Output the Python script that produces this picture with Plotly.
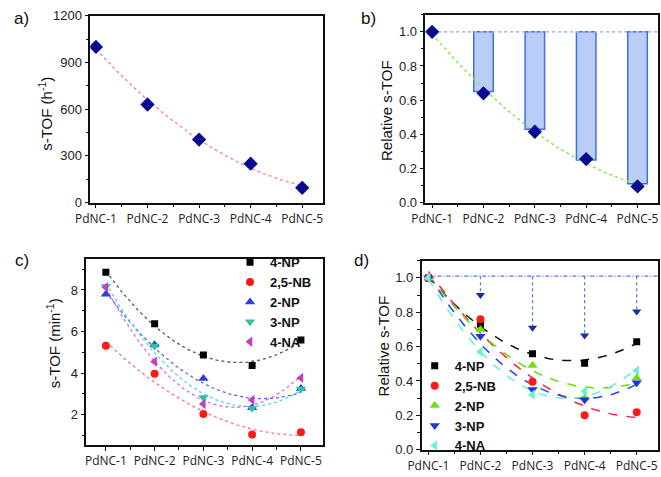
import numpy as np
import plotly.graph_objects as go

W, H = 661, 477

# ---------------- data ----------------
categories = ["PdNC-1", "PdNC-2", "PdNC-3", "PdNC-4", "PdNC-5"]
xpos = list(range(len(categories)))

# panel a
stof_h = [1000, 630, 405, 250, 95]
# panel b
rel_stof = [1.0, 0.64, 0.415, 0.255, 0.095]
bar_cats = [1, 2, 3, 4]
bar_low = [0.65, 0.43, 0.25, 0.11]
bar_top = 1.0

# panel c (min^-1)
substrates = ["4-NP", "2,5-NB", "2-NP", "3-NP", "4-NA"]
tof_4np = [8.85, 6.37, 4.87, 4.37, 5.59]
tof_25nb = [5.32, 3.97, 2.03, 1.04, 1.15]
tof_2np = [7.80, 5.36, 3.74, 2.33, 3.26]
tof_3np = [8.17, 5.30, 2.82, 2.31, 3.23]
tof_4na = [8.13, 4.55, 2.51, 2.71, 3.77]

# panel d (relative)
rel_4np = [1.0, 0.73, 0.558, 0.503, 0.628]
rel_25nb = [1.0, 0.76, 0.395, 0.20, 0.218]
rel_2np = [1.0, 0.70, 0.49, 0.30, 0.417]
rel_3np = [1.0, 0.66, 0.35, 0.29, 0.39]
rel_4na = [1.0, 0.57, 0.32, 0.34, 0.46]
arrow_cats = [1, 2, 3, 4]
arrow_tips = [0.90, 0.71, 0.665, 0.805]
ref_level = 1.01

# ---------------- helpers ----------------
def px_x(p):
    return p / W

def px_y(p):
    return 1 - p / H

xf = np.linspace(0, 4, 81)

def qfit(y):
    return np.polyval(np.polyfit(xpos, y, 2), xf)

fig = go.Figure()

# ---- panel a ----
fig.add_trace(go.Scatter(x=xf, y=qfit(stof_h), mode="lines",
                         line=dict(color="#ff7fa6", width=1.4, dash="dot"),
                         xaxis="x", yaxis="y", showlegend=False, hoverinfo="skip"))
fig.add_trace(go.Scatter(x=xpos, y=stof_h, mode="markers",
                         marker=dict(symbol="diamond", size=11, color="#0a0a90"),
                         xaxis="x", yaxis="y", showlegend=False))

# ---- panel b ----
fig.add_trace(go.Bar(x=bar_cats, y=[bar_top - v for v in bar_low], base=bar_low, width=0.38,
                     marker=dict(color="#b9cdf6", line=dict(color="#3d6fe6", width=1.5)),
                     xaxis="x2", yaxis="y2", showlegend=False))
fig.add_trace(go.Scatter(x=[0, 4.4], y=[bar_top, bar_top], mode="lines",
                         line=dict(color="#9ec0ff", width=1.6, dash="dot"),
                         xaxis="x2", yaxis="y2", showlegend=False, hoverinfo="skip"))
fig.add_trace(go.Scatter(x=xf, y=qfit(rel_stof), mode="lines",
                         line=dict(color="#77ee44", width=1.4, dash="dot"),
                         xaxis="x2", yaxis="y2", showlegend=False, hoverinfo="skip"))
fig.add_trace(go.Scatter(x=xpos, y=rel_stof, mode="markers",
                         marker=dict(symbol="diamond", size=11, color="#0a0a90"),
                         xaxis="x2", yaxis="y2", showlegend=False))

# ---- panel c ----
c_series = [
    (tof_4np, "square", 7, "#000000", "#555555"),
    (tof_25nb, "circle", 8, "#ff1a1a", "#ff6f8f"),
    (tof_2np, "triangle-up", 9, "#2a3de6", "#5566dd"),
    (tof_3np, "triangle-down", 9, "#33bfa0", "#44dede"),
    (tof_4na, "triangle-left", 9, "#c13fc1", "#e066e0"),
]
for (vals, sym, sz, col, fcol) in c_series:
    fig.add_trace(go.Scatter(x=xf, y=qfit(vals), mode="lines",
                             line=dict(color=fcol, width=1.3, dash="dot"),
                             xaxis="x3", yaxis="y3", showlegend=False, hoverinfo="skip"))
for name, (vals, sym, sz, col, fcol) in zip(substrates, c_series):
    fig.add_trace(go.Scatter(x=xpos, y=vals, mode="markers", name=name,
                             marker=dict(symbol=sym, size=sz, color=col),
                             xaxis="x3", yaxis="y3", legend="legend"))

# ---- panel d ----
fig.add_trace(go.Scatter(x=[0, 4.41], y=[ref_level, ref_level], mode="lines",
                         line=dict(color="#4a78e8", width=1.2, dash="4px,2px,1px,2px"),
                         xaxis="x4", yaxis="y4", showlegend=False, hoverinfo="skip"))
for ac, tip in zip(arrow_cats, arrow_tips):
    fig.add_trace(go.Scatter(x=[ac, ac], y=[ref_level, tip], mode="lines",
                             line=dict(color="#4a78e8", width=1.2, dash="dot"),
                             xaxis="x4", yaxis="y4", showlegend=False, hoverinfo="skip"))
fig.add_trace(go.Scatter(x=arrow_cats, y=arrow_tips, mode="markers",
                         marker=dict(symbol="triangle-down", size=8, color="#1a2aa8"),
                         xaxis="x4", yaxis="y4", showlegend=False, hoverinfo="skip"))
d_series = [
    (rel_4np, "square", 7, "#000000", "#111111"),
    (rel_25nb, "circle", 8, "#ff1a1a", "#ff2244"),
    (rel_2np, "triangle-up", 9, "#70e000", "#66dd00"),
    (rel_3np, "triangle-down", 9, "#2233dd", "#2244ee"),
    (rel_4na, "triangle-left", 9, "#6eefd6", "#66eedd"),
]
for (vals, sym, sz, col, fcol) in d_series:
    fig.add_trace(go.Scatter(x=xf, y=qfit(vals), mode="lines",
                             line=dict(color=fcol, width=1.5, dash="dash"),
                             xaxis="x4", yaxis="y4", showlegend=False, hoverinfo="skip"))
for name, (vals, sym, sz, col, fcol) in zip(substrates, d_series):
    fig.add_trace(go.Scatter(x=xpos, y=vals, mode="markers", name=name,
                             marker=dict(symbol=sym, size=sz, color=col),
                             xaxis="x4", yaxis="y4", legend="legend2"))

# ---------------- axes ----------------
tickfont_x = dict(family="Open Sans", size=12, color="#222222")
tickfont_y = dict(family="Liberation Sans", size=13, color="#222222")

def xax(domain, rng, anchor):
    return dict(domain=domain, range=rng, anchor=anchor, tickmode="array",
                tickvals=xpos, ticktext=categories, ticks="outside", ticklen=4,
                tickwidth=1.3, tickcolor="#111", showline=True, linecolor="#111",
                linewidth=1.5, mirror=True, showgrid=False, zeroline=False,
                tickfont=tickfont_x,
                minor=dict(tickmode="array", tickvals=[0.5, 1.5, 2.5, 3.5],
                           ticks="outside", ticklen=3, tickwidth=1.2, tickcolor="#111",
                           showgrid=False))

def yax(domain, rng, anchor, dtick, mdtick, fmt=None, tickvals=None, tick0=0):
    d = dict(domain=domain, range=rng, anchor=anchor, ticks="outside", ticklen=4,
             tickwidth=1.3, tickcolor="#111", showline=True, linecolor="#111",
             linewidth=1.5, mirror=True, showgrid=False, zeroline=False,
             tickfont=tickfont_y,
             minor=dict(ticks="outside", ticklen=3, tickwidth=1.2, tickcolor="#111",
                        dtick=mdtick, tick0=tick0, showgrid=False))
    if tickvals is not None:
        d.update(tickmode="array", tickvals=tickvals)
    else:
        d.update(dtick=dtick, tick0=0)
    if fmt:
        d["tickformat"] = fmt
    return d

legend_font = dict(family="Liberation Sans", size=13, color="#111", weight="bold")

layout = dict(
    width=W, height=H, margin=dict(l=0, r=0, t=0, b=0),
    paper_bgcolor="white", plot_bgcolor="white",
    font=dict(family="Liberation Sans", color="#222222"),
    barmode="overlay",
    xaxis=xax([px_x(77), px_x(315)], [-0.11, 4.4], "y"),
    yaxis=yax([px_y(202), px_y(9)], [0, 1200], "x", 300, 150),
    xaxis2=xax([px_x(420), px_x(658)], [-0.13, 4.4], "y2"),
    yaxis2=yax([px_y(202), px_y(8)], [0, 1.1], "x2", 0.2, 0.1, ".1f"),
    xaxis3=xax([px_x(73), px_x(315)], [-0.4, 4.45], "y3"),
    yaxis3=yax([px_y(452), px_y(260)], [0.55, 9.5], "x3", None, 1, tickvals=[2, 4, 6, 8], tick0=1),
    xaxis4=xax([px_x(416), px_x(658)], [-0.13, 4.41], "y4"),
    yaxis4=yax([px_y(457), px_y(262)], [0, 1.1], "x4", 0.2, 0.1, ".1f"),
    legend=dict(x=px_x(220), y=px_y(248), xanchor="left", yanchor="top",
                bgcolor="rgba(0,0,0,0)", traceorder="normal", tracegroupgap=0,
                font=legend_font),
    legend2=dict(x=px_x(409), y=px_y(355), xanchor="left", yanchor="top",
                 bgcolor="rgba(0,0,0,0)", traceorder="normal", tracegroupgap=0,
                 font=legend_font),
)

ann = []
def add_ann(text, xp, yp, size, angle=0):
    ann.append(dict(text=text, x=px_x(xp), y=px_y(yp), xref="paper", yref="paper",
                    xanchor="center", yanchor="middle", showarrow=False, textangle=angle,
                    font=dict(family="Liberation Sans", size=size, color="#111")))

add_ann("a)", 7, 12, 17)
add_ann("b)", 362, 12, 17)
add_ann("c)", 7, 262, 17)
add_ann("d)", 355, 262, 17)
add_ann("s-TOF (h<sup>-1</sup>)", 31, 110, 15, -90)
add_ann("Relative s-TOF", 380, 107, 15, -90)
add_ann("s-TOF (min<sup>-1</sup>)", 39, 347, 15, -90)
add_ann("Relative s-TOF", 378, 350, 15, -90)
layout["annotations"] = ann

fig.update_layout(**layout)
fig.write_html("out.html")
